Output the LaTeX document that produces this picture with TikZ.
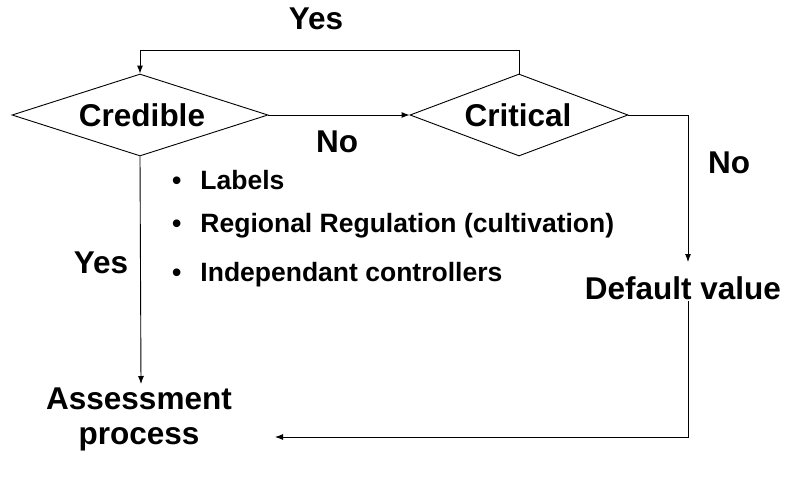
\documentclass[tikz,border=0pt]{standalone}
\usepackage{fontspec}
\setmainfont{Liberation Sans}
\usetikzlibrary{shapes.geometric,arrows.meta}
\begin{document}
\begin{tikzpicture}[x=1pt,y=-1pt,
  big/.style={font=\fontsize{31.5}{35}\selectfont\bfseries, inner sep=0pt},
  small/.style={font=\fontsize{26.5}{30}\selectfont\bfseries, inner sep=0pt, anchor=west},
  dec/.style={diamond, draw, line width=0.9pt, inner sep=0pt},
  ln/.style={line width=0.9pt},
  arr/.style={ln, -{Latex[length=8pt,width=6pt]}}]
\useasboundingbox (0,0) rectangle (789,479);
% diamonds
\node[dec, minimum width=256pt, minimum height=82pt] (cred) at (140,115) {};
\node[big] (credt) at (142,115) {Credible};
\node[dec, minimum width=218pt, minimum height=82pt] (crit) at (519,115) {};
\node[big] (critt) at (518,115) {Critical};
% labels
\node[big] (yestop) at (316,19) {Yes};
\node[big] (nomid) at (337,142) {No};
\node[big] (noright) at (729,163) {No};
\node[big] (yesleft) at (101,263) {Yes};
\node[big] (dv) at (683,288) {Default value};
\node[big, align=center] (as) at (139,419) {Assessment\\process};
% bullet list
\node[small] (b1) at (172,180) {\textbullet\hspace{19pt}Labels};
\node[small] (b2) at (172,226) {\textbullet\hspace{19pt}Regional Regulation (cultivation)};
\node[small] (b3) at (172,275) {\textbullet\hspace{19pt}Independant controllers};
% coordinates
\coordinate (dvtop) at (688,262);
\coordinate (dvbot) at (688,301);
\coordinate (astop) at (141,384);
\coordinate (asright) at (275,437);
% connectors
\draw[arr] (crit.north) -- ++(0,-23) -| (cred.north);
\draw[arr] (cred.east) -- (crit.west);
\draw[arr] (crit.east) -| (dvtop);
\draw[arr] (cred.south) -- (astop);
\draw[arr] (dvbot) |- (asright);
\end{tikzpicture}
\end{document}
